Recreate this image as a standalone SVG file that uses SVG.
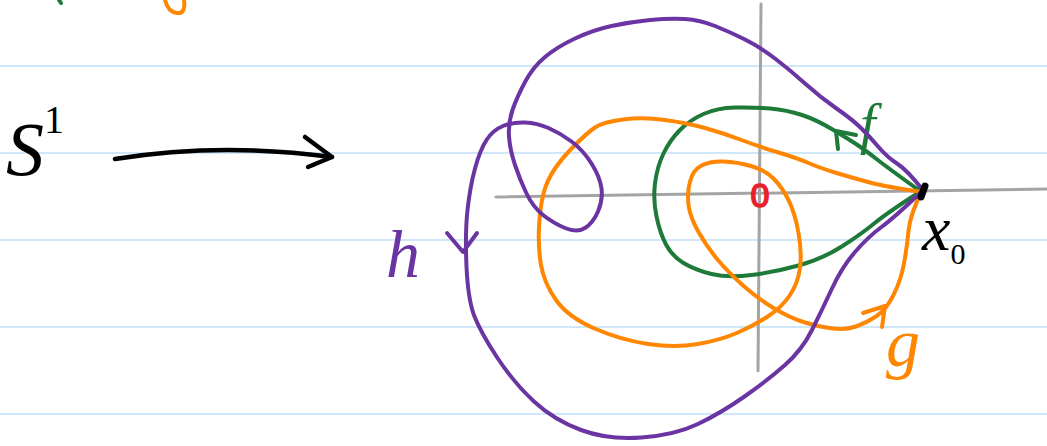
<svg xmlns="http://www.w3.org/2000/svg" width="1047" height="446" viewBox="0 0 1047 446">
<style>
.rule{stroke:#cfe7f8;stroke-width:2;fill:none}
.axis{stroke:#a4a4a4;stroke-width:3;fill:none;stroke-linecap:round}
.ink{fill:none;stroke-width:4;stroke-linecap:round;stroke-linejoin:round}
.purple{stroke:#6a35a2}
.green{stroke:#1d7a38}
.orange{stroke:#ff8600}
.black{stroke:#000}
.lbl{font-family:"Liberation Serif","DejaVu Serif",serif;font-style:italic}
</style>
<rect width="1047" height="446" fill="#fff"/>
<g id="rules">
<line class="rule" x1="0" y1="66" x2="1047" y2="66"/>
<line class="rule" x1="0" y1="153" x2="1047" y2="153"/>
<line class="rule" x1="0" y1="240" x2="1047" y2="240"/>
<line class="rule" x1="0" y1="327" x2="1047" y2="327"/>
<line class="rule" x1="0" y1="414" x2="1047" y2="414"/>
</g>
<g id="axes">
<line class="axis" x1="496" y1="197" x2="1047" y2="189"/>
<line class="axis" x1="761" y1="4" x2="758" y2="371"/>
</g>
<g id="top-fragments">
<path class="ink green" d="M59,0 L61,3"/>
<path class="ink orange" d="M165,0 Q168,12 177,13 Q186,14 184,0"/>
</g>
<g id="curve-f">
<path class="ink green" d="M920,191 Q888,168 876.5,159 Q865,150 857.5,145 Q850,140 833.5,130 Q817,120 802,115 Q787,110 770,108.5 Q753,107 735,107.5 Q717,108 703.5,114 Q690,120 680,130 Q670,140 663.5,153.5 Q657,167 655,183.5 Q653,200 656.5,216.5 Q660,233 666,244.5 Q672,256 683.5,263 Q695,270 711.5,274 Q728,278 751.5,275 Q775,272 798.5,265.5 Q822,259 841,247 Q860,235 873.5,224 Q887,213 918,193"/>
<path class="ink green" d="M838,149 L836,131 L856,135"/>
<text class="lbl" x="860" y="143" font-size="56" fill="#1d7a38">f</text>
</g>
<g id="curve-g">
<path class="ink orange" d="M922,192 Q887,187 870,182.5 Q853,178 836.5,173 Q820,168 808.5,163 Q797,158 778.5,152.5 Q760,147 741.5,140 Q723,133 705,128 Q687,123 665,120 Q643,117 623,119.5 Q603,122 595,127.5 Q587,133 575,145 Q563,157 555,168.5 Q547,180 543.5,193.5 Q540,207 539,227 Q538,247 541,265 Q544,283 556,300 Q568,317 594.5,328.5 Q621,340 648,344 Q675,348 698,344 Q721,340 738,332.5 Q755,325 768.5,316 Q782,307 790,295 Q798,283 800,268 Q802,253 798.5,233 Q795,213 788.5,200 Q782,187 773.5,178.5 Q765,170 751,166 Q737,162 723.5,161.5 Q710,161 701.5,165.5 Q693,170 690,181.5 Q687,193 688.5,205 Q690,217 698.5,232 Q707,247 717.5,259.5 Q728,272 742.5,285 Q757,298 773.5,308 Q790,318 805,322.5 Q820,327 833,328.5 Q846,330 856,326.5 Q866,323 876,316.5 Q886,310 893.5,295 Q901,280 904,263.5 Q907,247 908.5,231 Q910,215 921,193"/>
<path class="ink orange" d="M863,313 L885,306 L882,327"/>
<text class="lbl" x="886" y="366" font-size="68" fill="#ff8600">g</text>
</g>
<g id="curve-h">
<path class="ink purple" d="M922,189 Q907,170 897,163.5 Q887,157 878.5,147 Q870,137 861.5,128.5 Q853,120 836.5,108.5 Q820,97 805,83.5 Q790,70 775,58.5 Q760,47 745,39.5 Q730,32 715,26 Q700,20 685,19 Q670,18 650,20 Q630,22 611.5,26 Q593,30 575,38.5 Q557,47 545,57 Q533,67 525,82 Q517,97 512.5,110 Q508,123 509,136.5 Q510,150 515,165 Q520,180 526.5,193.5 Q533,207 543,215 Q553,223 565,228 Q577,233 585,228 Q593,223 598,211.5 Q603,200 601.5,188.5 Q600,177 591.5,163.5 Q583,150 571.5,141.5 Q560,133 548.5,128 Q537,123 525,122.5 Q513,122 503,126 Q493,130 486.5,140 Q480,150 475,168.5 Q470,187 467.5,210 Q465,233 466.5,266.5 Q468,300 474.5,316.5 Q481,333 497.5,358 Q514,383 534,401.5 Q554,420 581,430 Q608,440 641.5,437.5 Q675,435 698,424 Q721,413 744.5,396.5 Q768,380 785,365 Q802,350 812,330 Q822,310 832,288.5 Q842,267 855,252 Q868,237 881.5,227 Q895,217 920,193"/>
<path class="ink purple" d="M447,233 L463,252 L477,233"/>
<text class="lbl" x="386" y="277" font-size="68" fill="#6a35a2">h</text>
</g>
<g id="point-x0">
<path class="ink black" style="stroke-width:7" d="M925,186 L921,197"/>
<text class="lbl" x="922" y="250" font-size="64" fill="#000">x<tspan font-size="30" dy="14" font-style="normal">0</tspan></text>
</g>
<g id="origin">
<text x="760" y="207" font-family="Liberation Sans, sans-serif" font-size="34" fill="#e8202a" stroke="#e8202a" stroke-width="1.6" text-anchor="middle">0</text>
</g>
<g id="domain">
<text class="lbl" x="6" y="175" font-size="76" fill="#000">S<tspan font-size="40" dy="-42" font-style="normal">1</tspan></text>
</g>
<g id="connectors">
<path class="ink black" style="stroke-width:4.5" d="M115,159 Q220,142 332,157"/>
<path class="ink black" style="stroke-width:4.5" d="M305,137 L332,157 L308,167"/>
</g>
</svg>
